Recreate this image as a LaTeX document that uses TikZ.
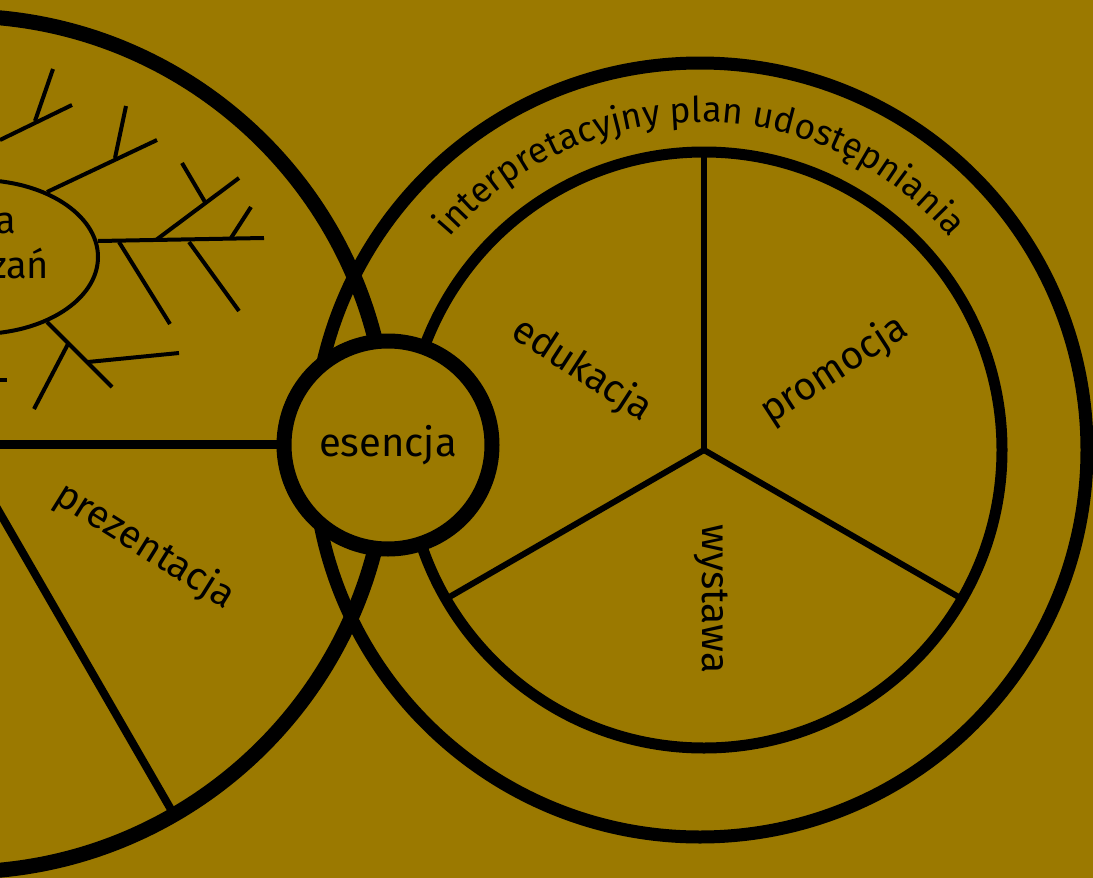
\documentclass[tikz,border=0pt]{standalone}
\usepackage{fontspec}
\setmainfont{Fira Sans}
\usetikzlibrary{decorations.text}
\definecolor{bg}{HTML}{9B7900}
\begin{document}
\begin{tikzpicture}[x=1pt,y=1pt,
  lbl/.style={font=\fontsize{39}{39}\selectfont, inner sep=0pt},
  ringnode/.style={circle, draw=black, outer sep=0pt, inner sep=0pt},
  twig/.style={line width=4pt}]
\fill[bg] (0,0) rectangle (1093,-878);
\useasboundingbox (0,0) rectangle (1093,-878);
\begin{scope}
\clip (0,0) rectangle (1093,-878);
% left pie
\node[ringnode, line width=15pt, minimum size=856pt] (left) at (-40,-444) {};
\coordinate (Ec) at (388,-444);
\draw[line width=9pt] (left.center) -- (Ec);
\draw[line width=8pt] (left.center) -- (left.-60);
% map ellipse
\draw[line width=4pt] (-22,-257) ellipse (120 and 77);
\node[align=center, font=\fontsize{38}{45}\selectfont, inner sep=0pt] (map) at (-32,-250) {mapa\\powiązań};
% branches
\draw[twig] (0,-140) -- (72,-105);
\draw[twig] (35,-121) -- (53,-69);
\draw[twig] (47,-192) -- (157,-140);
\draw[twig] (115,-158) -- (126,-106);
\draw[twig] (98,-241) -- (264,-238);
\draw[twig] (156,-240) -- (239,-178);
\draw[twig] (205,-202) -- (182,-163);
\draw[twig] (231,-238) -- (251,-207);
\draw[twig] (119,-242) -- (170,-324);
\draw[twig] (189,-242) -- (239,-311);
\draw[twig] (47,-322) -- (112,-387);
\draw[twig] (88,-362) -- (179,-353);
\draw[twig] (68,-344) -- (34,-409);
\draw[twig] (0,-380) -- (7,-380);
\node[lbl, rotate=-32] (prez) at (145,-546) {prezentacja};
% right rings
\node[ringnode, line width=13pt, minimum size=774pt] (outer) at (700,-450) {};
\node[ringnode, line width=11pt, minimum size=596pt] (inner) at (704,-450) {};
\draw[line width=6pt] (inner.center) -- (inner.90);
\draw[line width=6pt] (inner.center) -- (inner.-30);
\draw[line width=6pt] (inner.center) -- (inner.210);
\path[decorate, decoration={text along path, text align=center,
  text={|\fontsize{35.5}{35.5}\selectfont|interpretacyjny plan udostępniania}}]
  (700,-450) ++(150:328) arc (150:30:328);
\node[lbl, rotate=-33] (edu) at (582,-370) {edukacja};
\node[lbl, rotate=33] (promo) at (834,-370) {promocja};
\node[lbl, rotate=-90] (wyst) at (711,-599) {wystawa};
% essence
\node[ringnode, line width=15pt, minimum size=208pt, fill=bg, font=\fontsize{40}{40}\selectfont] (ess) at (388,-445) {esencja};
\end{scope}
\end{tikzpicture}
\end{document}
